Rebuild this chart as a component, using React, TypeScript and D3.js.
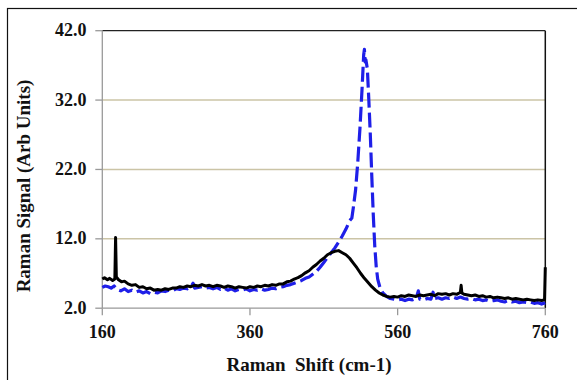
import React from "react";
import * as d3 from "d3";

const xTicks = [160, 360, 560, 760];
const yTicks = [2, 12, 22, 32, 42];

const blackX = [160,163,167,170,174,177,178,179,182,186,190,195,200,205,210,215,220,225,230,235,240,245,250,255,260,265,270,275,280,285,290,295,300,305,310,315,320,325,330,335,340,345,350,355,360,365,370,375,380,385,390,395,400,405,410,415,420,425,430,435,440,445,450,455,460,465,470,475,480,485,490,495,500,505,510,515,520,525,530,535,540,545,550,555,560,565,570,575,580,585,590,595,600,605,610,615,620,625,630,635,640,645,646,647,650,655,660,665,670,675,680,685,690,695,700,705,710,715,720,725,730,735,740,745,750,755,759,760];
const blackY = [6.2,6.4,6.1,6.3,6.0,6.2,12.2,6.5,6.1,5.8,5.9,5.5,5.3,5.4,5.0,5.1,4.8,4.9,4.6,4.7,4.6,4.8,4.7,4.9,4.9,5.1,5.0,5.2,5.1,5.3,5.2,5.4,5.2,5.3,5.1,5.3,5.2,5.0,5.2,5.1,4.9,5.1,5.0,4.9,5.1,5.0,5.2,5.1,5.3,5.2,5.4,5.3,5.5,5.5,5.8,5.9,6.2,6.4,6.7,7.1,7.4,7.9,8.3,8.8,9.2,9.7,10.0,10.2,10.3,10.0,9.7,9.2,8.5,7.8,7.0,6.3,5.7,5.1,4.6,4.2,3.9,3.7,3.6,3.7,3.6,3.8,3.7,3.9,3.8,3.7,3.9,3.8,3.9,4.0,3.8,4.1,4.0,4.1,3.9,4.1,4.0,4.3,5.3,4.2,4.0,3.9,3.8,3.9,3.7,3.8,3.6,3.7,3.5,3.6,3.5,3.4,3.5,3.3,3.4,3.3,3.2,3.3,3.2,3.1,3.2,3.1,3.2,7.9];

const blueX = [160,164,168,172,176,180,185,190,195,200,205,210,215,220,225,230,235,240,245,250,255,260,265,270,275,280,283,285,290,295,300,305,310,315,320,325,330,335,340,345,350,355,360,365,370,375,380,385,390,395,400,405,410,415,420,425,430,435,440,445,450,455,460,465,470,475,480,485,490,495,498,500,503,506,509,512,514,515,516,517,519,521,523,525,527,529,531,533,536,540,545,550,555,560,565,570,575,580,585,588,590,595,600,605,608,610,615,620,625,630,635,640,645,650,655,660,665,670,675,680,685,690,695,700,705,710,715,720,725,730,735,740,745,750,755,760];
const blueY = [5.0,5.2,5.1,4.9,5.2,4.7,4.5,4.8,4.4,4.6,4.3,4.5,4.2,4.4,4.1,4.3,4.2,4.5,4.4,4.6,4.5,4.8,4.7,4.9,4.8,5.1,5.6,4.9,5.0,5.1,4.9,5.0,4.8,5.0,4.7,4.9,4.6,4.8,4.5,4.7,4.6,4.8,4.5,4.7,4.6,4.8,4.6,4.7,4.9,4.8,5.0,5.1,5.3,5.4,5.6,5.8,6.0,6.3,6.5,6.9,7.3,7.9,8.6,9.3,10.0,10.7,11.5,12.4,13.4,14.6,15.0,16.5,19.0,23.0,28.0,34.0,38.5,39.3,37.5,37.8,36.5,32.0,27.0,21.0,15.5,11.0,8.0,6.2,5.0,4.2,3.7,3.4,3.3,3.2,3.3,3.1,3.3,3.2,3.4,4.5,3.3,3.2,3.4,3.3,4.3,3.4,3.5,3.3,3.5,3.4,3.6,3.4,3.6,3.4,3.3,3.4,3.2,3.3,3.1,3.2,3.0,3.1,3.2,3.0,2.9,3.1,2.9,3.0,2.8,2.9,2.8,2.9,2.7,2.8,2.6,2.8];

const W = 577, H = 380;
const L = 102.3, R = 545.3, T = 30.7, B = 308.2;
const FONT = "'Liberation Serif', 'Times New Roman', serif";

export default function App() {
  const x = d3.scaleLinear().domain([160, 760]).range([L, R]);
  const y = d3.scaleLinear().domain([2, 42]).range([B, T]);
  const mk = (xs: number[], ys: number[]) =>
    d3.line<number>().x((d) => x(d)).y((_, i) => y(ys[i]))(xs) || "";
  return (
    <svg width={W} height={H} style={{ position: "absolute", left: 0, top: 0, background: "#fff" }}>
      <rect x={7.5} y={8.5} width={W} height={H} fill="#fff" stroke="#111" strokeWidth={1.2} />
      {yTicks.filter((t) => t !== 2 && t !== 42).map((t) => (
        <line key={"g" + t} x1={L} x2={R} y1={y(t)} y2={y(t)} stroke="#cbc4a6" strokeWidth={1.5} />
      ))}
      <line x1={L} x2={R} y1={T} y2={T} stroke="#222" strokeWidth={1.3} />
      <line x1={R} x2={R} y1={T} y2={B} stroke="#111" strokeWidth={1.5} />
      <line x1={L} x2={L} y1={T} y2={B} stroke="#999" strokeWidth={1.3} />
      <line x1={L} x2={R} y1={B} y2={B} stroke="#999" strokeWidth={1.3} />
      {yTicks.map((t) => (
        <g key={"y" + t}>
          <line x1={L - 7} x2={L} y1={y(t)} y2={y(t)} stroke="#999" strokeWidth={1.3} />
          <text x={86.5} y={y(t) + 5.5} textAnchor="end" fontFamily={FONT} fontWeight="bold" fontSize={18} fill="#111">
            {t.toFixed(1)}
          </text>
        </g>
      ))}
      {xTicks.map((t) => (
        <g key={"x" + t}>
          <line x1={x(t)} x2={x(t)} y1={B} y2={B + 7} stroke="#999" strokeWidth={1.3} />
          <text x={x(t)} y={338} textAnchor="middle" fontFamily={FONT} fontWeight="bold" fontSize={18} fill="#111">
            {t}
          </text>
        </g>
      ))}
      <path d={mk(blueX, blueY)} fill="none" stroke="#1f1fe8" strokeWidth={3.2} strokeDasharray="15,5" strokeLinejoin="round" />
      <path d={mk(blackX, blackY)} fill="none" stroke="#000" strokeWidth={3} strokeLinejoin="round" />
      <text x={309} y={371} textAnchor="middle" fontFamily={FONT} fontWeight="bold" fontSize={19} fill="#111" style={{ whiteSpace: "pre" }}>
        {"Raman  Shift (cm-1)"}
      </text>
      <text transform="translate(30,186) rotate(-90)" textAnchor="middle" fontFamily={FONT} fontWeight="bold" fontSize={19} fill="#111">
        Raman Signal (Arb Units)
      </text>
    </svg>
  );
}
